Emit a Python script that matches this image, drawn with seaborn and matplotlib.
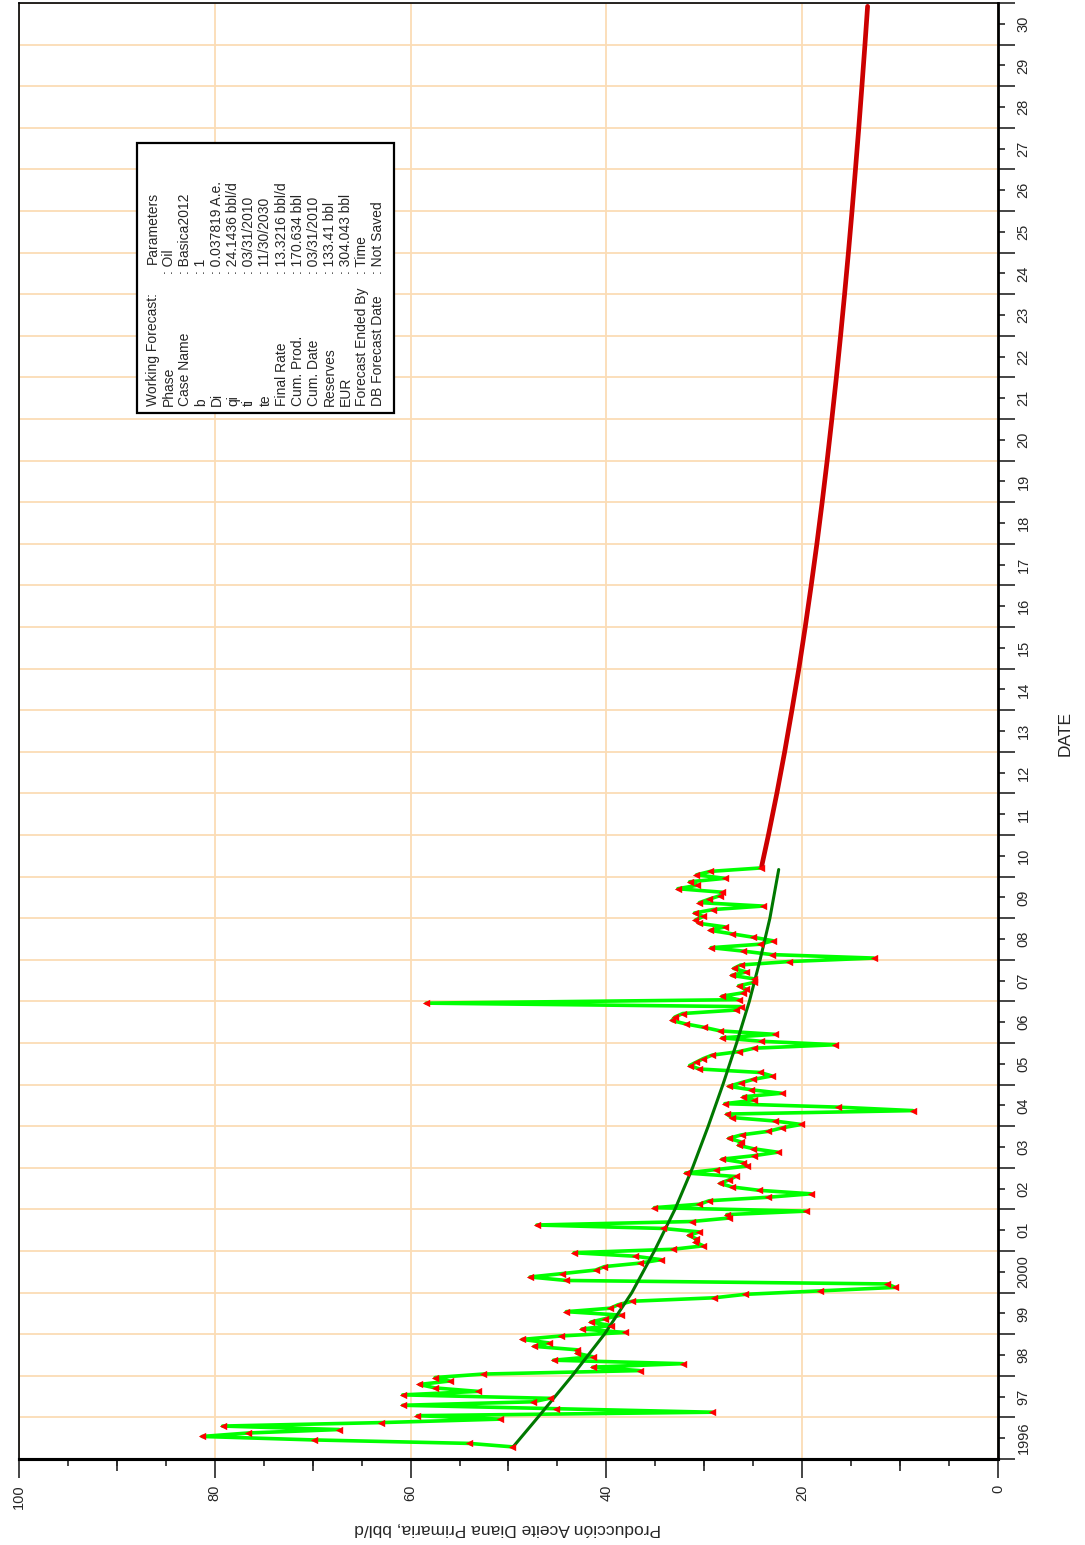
"""
Oil rate history, fitted decline and forecast (rotated layout)
"""

import numpy as np
import pandas as pd
import matplotlib
matplotlib.use('Agg')
import matplotlib.pyplot as plt
import seaborn as sns
from matplotlib.patches import Rectangle

sns.set_style('white')
plt.rcParams['font.family'] = ['Liberation Sans', 'DejaVu Sans']

# monthly oil rate, bbl/d (Apr 1996 - Mar 2010)
rate_1996 = [49.6, 54.0, 69.9, 81.3, 76.6, 67.3, 79.2, 63.0, 50.9]
rate_1997 = [59.3, 29.2, 45.1, 60.8, 47.5, 45.8, 60.8, 53.1, 57.5, 59.1, 56.0, 57.5]
rate_1998 = [52.6, 36.6, 41.4, 32.2, 45.4, 41.4, 43.0, 43.0, 47.4, 45.9, 48.6, 44.6]
rate_1999 = [38.1, 42.5, 39.5, 41.6, 40.1, 38.5, 44.1, 39.6, 38.8, 37.4, 29.0, 25.8]
rate_2000 = [18.2, 10.5, 11.3, 44.1, 47.8, 44.5, 41.1, 40.2, 36.6, 34.4, 37.1, 43.3]
rate_2001 = [33.2, 30.1, 30.9, 30.8, 31.6, 30.5, 34.2, 47.1, 31.3, 27.5, 27.7, 19.6]
rate_2002 = [35.1, 30.5, 29.5, 23.5, 19.1, 24.4, 27.2, 28.4, 27.5, 26.8, 31.9, 28.8]
rate_2003 = [25.6, 26.0, 28.2, 24.9, 22.5, 25.0, 26.5, 26.3, 27.5, 26.2, 23.5, 22.1]
rate_2004 = [20.1, 22.8, 27.2, 27.7, 8.7, 16.3, 27.9, 24.9, 26.0, 22.1, 25.2, 27.5]
rate_2005 = [26.3, 25.0, 23.1, 24.3, 30.5, 31.5, 30.8, 30.1, 29.2, 26.5, 24.9, 16.6]
rate_2006 = [24.2, 28.2, 22.8, 28.4, 30.0, 31.9, 33.3, 33.0, 32.2, 26.8, 26.3, 58.4]
rate_2007 = [26.5, 28.2, 26.0, 25.7, 26.5, 24.9, 24.9, 27.2, 25.7, 27.0, 26.3, 21.3]
rate_2008 = [12.7, 23.1, 26.0, 29.3, 24.3, 23.0, 25.0, 27.2, 29.4, 27.9, 30.5, 30.9]
rate_2009 = [30.1, 31.0, 29.1, 24.0, 30.5, 29.5, 28.4, 28.2, 32.7, 30.7, 31.5, 27.9]
rate_2010 = [30.8, 29.4, 24.2]

oil_rate = (rate_1996 + rate_1997 + rate_1998 + rate_1999 + rate_2000 + rate_2001
            + rate_2002 + rate_2003 + rate_2004 + rate_2005 + rate_2006 + rate_2007
            + rate_2008 + rate_2009 + rate_2010)
months = pd.date_range('1996-04-01', periods=len(oil_rate), freq='MS')
t_hist = np.asarray(months.year + (months.month - 0.5) / 12)

# fitted decline through history
fit_years = [1996.3, 1997.0, 1998.0, 1999.0, 2000.0, 2001.0, 2002.0, 2003.0,
             2004.0, 2005.0, 2006.0, 2007.0, 2008.0, 2009.0, 2010.17]
fit_rate = [49.5, 47.0, 43.5, 40.2, 37.4, 35.1, 33.0, 31.2,
            29.6, 28.1, 26.7, 25.4, 24.3, 23.3, 22.4]

# forecast
fc_years = [2010.25, 2011, 2012, 2013, 2014, 2015, 2016, 2017, 2018, 2019, 2020,
            2021, 2022, 2023, 2024, 2025, 2026, 2027, 2028, 2029, 2030, 2030.92]
fc_rate = [24.14, 23.45, 22.59, 21.79, 21.05, 20.34, 19.69, 19.08, 18.50, 17.96, 17.45,
           16.97, 16.51, 16.08, 15.67, 15.28, 14.91, 14.56, 14.22, 13.90, 13.59, 13.32]

year_labels = ['1996', '97', '98', '99', '2000'] + [f'{y % 100:02d}' for y in range(2001, 2031)]

legend_labels = ['Working Forecast:', 'Phase', 'Case Name', 'b', 'Di', 'qi', 'ti', 'te',
                 'Final Rate', 'Cum. Prod.', 'Cum. Date', 'Reserves', 'EUR',
                 'Forecast Ended By', 'DB Forecast Date']
legend_values = ['Parameters', ': Oil', ': Basica2012', ': 1', ': 0.037819 A.e.',
                 ': 24.1436 bbl/d', ': 03/31/2010', ': 11/30/2030', ': 13.3216 bbl/d',
                 ': 170.634 bbl', ': 03/31/2010', ': 133.41 bbl', ': 304.043 bbl',
                 ': Time', ': Not Saved']

W, H = 1085, 1545
fig = plt.figure(figsize=(W / 100, H / 100), dpi=100)
ax = fig.add_axes([19 / W, 1 - 1459 / H, (998 - 19) / W, (1459 - 3) / H])

sns.lineplot(x=oil_rate, y=t_hist, sort=False, estimator=None, orient='y',
             color='#00ff00', lw=2.6, ax=ax, zorder=3)
sns.lineplot(x=fit_rate, y=fit_years, sort=False, estimator=None, orient='y',
             color='#007800', lw=2.2, ax=ax, zorder=4)
sns.scatterplot(x=oil_rate, y=t_hist, marker='<', color='#ff0000', s=28,
                linewidth=0, ax=ax, zorder=5)
sns.lineplot(x=fc_rate, y=fc_years, sort=False, estimator=None, orient='y',
             color='#cc0000', lw=3.4, ax=ax, zorder=4)

ax.set_xlim(100, 0)
ax.set_ylim(1996, 2031)

# production axis (bottom)
ax.set_xticks(range(0, 101, 20))
ax.set_xticks(range(0, 101, 5), minor=True)
ax.tick_params(axis='x', which='major', bottom=True, direction='out', length=13.5,
               width=1.2, labelrotation=90, pad=5, labelsize=10.5)
ax.tick_params(axis='x', which='minor', bottom=True, direction='out', length=5, width=1.2)
sec = ax.secondary_xaxis('bottom')
sec.set_xticks([10, 30, 50, 70, 90])
sec.tick_params(bottom=True, direction='out', length=8.5, width=1.2, labelbottom=False)
sec.spines['bottom'].set_linewidth(2.2)

# date axis (right)
ax.yaxis.tick_right()
ax.set_yticks(range(1996, 2032))
ax.set_yticklabels([])
ax.set_yticks(np.arange(1996.5, 2031, 1), minor=True)
ax.set_yticklabels(year_labels, minor=True)
ax.tick_params(axis='y', which='major', left=False, right=True, direction='out',
               length=12.2, width=1.2, labelright=False)
ax.tick_params(axis='y', which='minor', left=False, right=True, direction='out',
               length=5, width=1.2, labelright=True, labelleft=False,
               labelrotation=90, pad=8.5, labelsize=10.5)
for lab in ax.get_yticklabels(minor=True):
    lab.set_va('center')

ax.grid(True, which='major', color='#fbdcb5', lw=1.3)
ax.set_axisbelow(True)
for side, s in ax.spines.items():
    s.set_visible(True)
    s.set_color('black')
    s.set_linewidth(1.2)
ax.spines['right'].set_linewidth(2)
ax.spines['bottom'].set_linewidth(2.2)

fig.text(508 / W, 1 - 1528 / H, 'Producción Aceite Diana Primaria, bbl/d',
         rotation=180, ha='center', va='center', fontsize=12.5)
fig.text(1065 / W, 1 - 733 / H, 'DATE', rotation=90, ha='center', va='center',
         fontsize=12.5)

# forecast parameter box
box = Rectangle((137 / W, 1 - 413 / H), (394 - 137) / W, (413 - 143) / H,
                transform=fig.transFigure, facecolor='white', edgecolor='black',
                lw=1.6, zorder=2)
fig.add_artist(box)
for i, (lab, val) in enumerate(zip(legend_labels, legend_values)):
    x = (152.7 + i * 16.1) / W
    fig.text(x, 1 - 406 / H, lab, rotation=90, ha='center', va='bottom',
             fontsize=10, zorder=3)
    y0 = 264 if i == 0 else 274
    fig.text(x, 1 - y0 / H, val, rotation=90, ha='center', va='bottom',
             fontsize=10, zorder=3)

fig.savefig('out.png', dpi=100)
